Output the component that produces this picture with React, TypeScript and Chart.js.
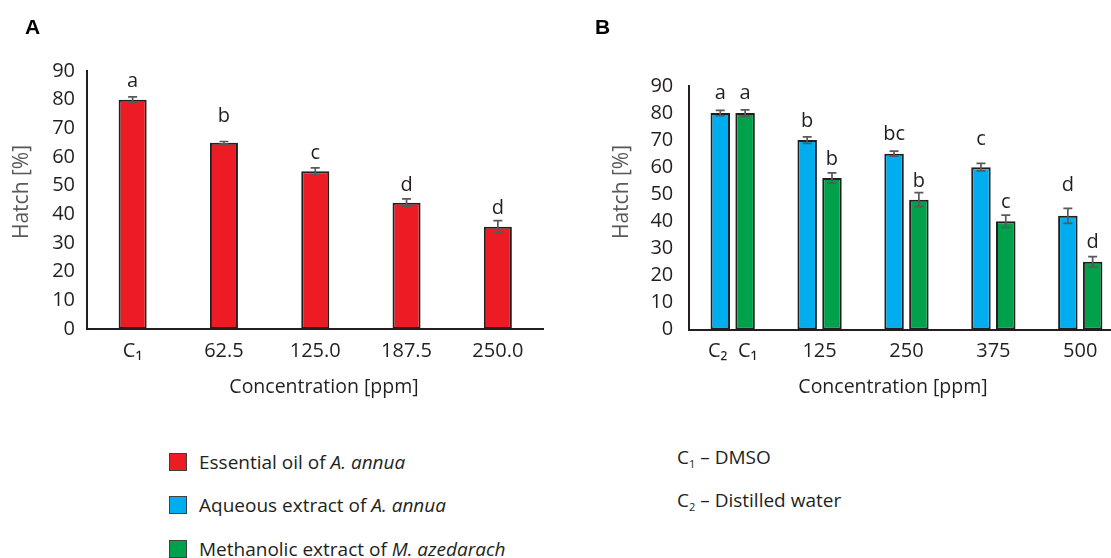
import React, { useEffect, useRef } from "react";
import { Chart, registerables } from "chart.js";

Chart.register(...registerables);

// ---------- Data ----------
const categoriesA = ["C₁", "62.5", "125.0", "187.5", "250.0"];
const essentialOil = [80, 65, 55, 44, 35.7];
const essentialOilErr = [1, 0.4, 1.2, 1.4, 2.1];
const essentialOilLetters = ["a", "b", "c", "d", "d"];
const essentialOilLetterLevel = [84.5, 72.3, 59.2, 48.2, 40.1];

const categoriesB = ["C₂  C₁", "125", "250", "375", "500"];
const aqueous = [80, 70, 65, 60, 42];
const aqueousErr = [1, 1.2, 0.9, 1.4, 2.8];
const aqueousLetters = ["a", "b", "bc", "c", "d"];
const aqueousLetterLevel = [85.1, 74.9, 70, 68.2, 51.2];
const methanolic = [80, 56, 48, 40, 25];
const methanolicErr = [1.2, 1.9, 2.6, 2.3, 1.9];
const methanolicLetters = ["a", "b", "b", "c", "d"];
const methanolicLetterLevel = [85.1, 60.8, 52.5, 44.8, 30];

const yMin = 0;
const yMax = 90;
const yStep = 10;
const xTitle = "Concentration [ppm]";
const yTitle = "Hatch [%]";

const FONT = "'Open Sans', 'Noto Sans', sans-serif";
const INK = "#231F20";

const annotatePlugin = {
  id: "annotate",
  afterDatasetsDraw(chart: any) {
    const ctx = chart.ctx;
    const ys = chart.scales.y;
    chart.data.datasets.forEach((ds: any, di: number) => {
      const meta = chart.getDatasetMeta(di);
      meta.data.forEach((bar: any, i: number) => {
        const v = ds.data[i];
        const e = ds.errors[i];
        const x = bar.x;
        const yTop = ys.getPixelForValue(v + e);
        const yBot = ys.getPixelForValue(v - e);
        ctx.save();
        ctx.strokeStyle = "#595959";
        ctx.lineWidth = 1.7;
        ctx.beginPath();
        ctx.moveTo(x, yTop);
        ctx.lineTo(x, yBot);
        ctx.moveTo(x - 4.5, yTop);
        ctx.lineTo(x + 4.5, yTop);
        ctx.moveTo(x - 4.5, yBot);
        ctx.lineTo(x + 4.5, yBot);
        ctx.stroke();
        ctx.fillStyle = INK;
        ctx.font = `20px ${FONT}`;
        ctx.textAlign = "center";
        ctx.textBaseline = "alphabetic";
        ctx.fillText(ds.letters[i], x, ys.getPixelForValue(ds.letterLevels[i]));
        ctx.restore();
      });
    });
  },
};

// Axis titles placed like the original figure (slightly off the plot centre)
const axisTitlePlugin = {
  id: "axisTitles",
  afterDraw(chart: any, _args: any, opts: any) {
    const ctx = chart.ctx;
    ctx.save();
    ctx.textAlign = "center";
    ctx.textBaseline = "middle";
    ctx.fillStyle = INK;
    ctx.font = `19.5px ${FONT}`;
    ctx.fillText(xTitle, opts.xTitleX, opts.xTitleY);
    ctx.translate(opts.yTitleX, opts.yTitleY);
    ctx.rotate(-Math.PI / 2);
    ctx.fillStyle = "#595959";
    ctx.font = `21px ${FONT}`;
    ctx.fillText(yTitle, 0, 0);
    ctx.restore();
  },
};

function makeOptions(opts: {
  padding: any;
  yWidth: number;
  xHeight: number;
  yTickPad: number;
  titles: any;
}) {
  return {
    responsive: false,
    animation: false as const,
    layout: { padding: opts.padding },
    plugins: {
      legend: { display: false },
      tooltip: { enabled: false },
      axisTitles: opts.titles,
    },
    scales: {
      x: {
        grid: { display: false, drawTicks: false },
        border: { display: true, color: INK, width: 2 },
        ticks: {
          color: INK,
          font: { family: FONT, size: 20 },
          padding: 10,
          maxRotation: 0,
          autoSkip: false,
        },
        title: { display: false },
        afterFit: (s: any) => {
          s.height = opts.xHeight;
        },
      },
      y: {
        min: yMin,
        max: yMax,
        grid: { display: false, drawTicks: false },
        border: { display: true, color: INK, width: 2 },
        ticks: {
          stepSize: yStep,
          color: INK,
          font: { family: FONT, size: 20 },
          padding: opts.yTickPad,
        },
        title: { display: false },
        afterFit: (s: any) => {
          s.width = opts.yWidth;
        },
      },
    },
  };
}

export default function App() {
  const refA = useRef<HTMLCanvasElement>(null);
  const refB = useRef<HTMLCanvasElement>(null);

  useEffect(() => {
    const chartA = new Chart(refA.current as HTMLCanvasElement, {
      type: "bar",
      data: {
        labels: categoriesA,
        datasets: [
          {
            label: "Essential oil of A. annua",
            data: essentialOil,
            backgroundColor: "#ED1C24",
            borderColor: INK,
            borderWidth: 2,
            borderSkipped: false,
            barPercentage: 1,
            categoryPercentage: 0.307,
            errors: essentialOilErr,
            letters: essentialOilLetters,
            letterLevels: essentialOilLetterLevel,
          } as any,
        ],
      },
      options: makeOptions({
        padding: { left: 0, right: 16.5, top: 71, bottom: 0 },
        yWidth: 87,
        xHeight: 91,
        yTickPad: 12,
        titles: { xTitleX: 324, xTitleY: 387, yTitleX: 22, yTitleY: 192 },
      }) as any,
      plugins: [annotatePlugin, axisTitlePlugin],
    });

    const chartB = new Chart(refB.current as HTMLCanvasElement, {
      type: "bar",
      data: {
        labels: categoriesB,
        datasets: [
          {
            label: "Aqueous extract of A. annua",
            data: aqueous,
            backgroundColor: "#00AEEF",
            borderColor: INK,
            borderWidth: 2,
            borderSkipped: false,
            barPercentage: 0.786,
            categoryPercentage: 0.571,
            errors: aqueousErr,
            letters: aqueousLetters,
            letterLevels: aqueousLetterLevel,
          } as any,
          {
            label: "Methanolic extract of M. azedarach",
            data: methanolic,
            backgroundColor: "#00A14B",
            borderColor: INK,
            borderWidth: 2,
            borderSkipped: false,
            barPercentage: 0.786,
            categoryPercentage: 0.571,
            errors: methanolicErr,
            letters: methanolicLetters,
            letterLevels: methanolicLetterLevel,
          } as any,
        ],
      },
      options: makeOptions({
        padding: { left: 40, right: 16.3, top: 86, bottom: 0 },
        yWidth: 89.25,
        xHeight: 90.5,
        yTickPad: 16,
        titles: { xTitleX: 333, xTitleY: 387, yTitleX: 62, yTitleY: 192 },
      }) as any,
      plugins: [annotatePlugin, axisTitlePlugin],
    });

    return () => {
      chartA.destroy();
      chartB.destroy();
    };
  }, []);

  const text: React.CSSProperties = {
    position: "absolute",
    fontFamily: FONT,
    fontSize: "19px",
    lineHeight: "24px",
    color: INK,
    whiteSpace: "nowrap",
  };
  const swatch = (color: string, top: number): React.CSSProperties => ({
    position: "absolute",
    left: 169,
    top,
    width: 18,
    height: 18,
    boxSizing: "border-box",
    background: color,
    border: "1.5px solid #404040",
  });
  const sub: React.CSSProperties = { fontSize: "11px", verticalAlign: "-4px", lineHeight: 0 };
  const panelLabel: React.CSSProperties = {
    position: "absolute",
    fontFamily: "'Liberation Sans', Arial, sans-serif",
    fontWeight: 700,
    fontSize: "21px",
    lineHeight: "24px",
    color: "#000",
    top: 15,
  };

  return (
    <div
      style={{
        position: "absolute",
        left: 0,
        top: 0,
        width: 1111,
        height: 558,
        overflow: "hidden",
        background: "#fff",
      }}
    >
      <canvas
        ref={refA}
        width={560}
        height={420}
        style={{ position: "absolute", left: 0, top: 0, width: 560, height: 420 }}
      />
      <canvas
        ref={refB}
        width={580}
        height={420}
        style={{ position: "absolute", left: 560, top: 0, width: 580, height: 420 }}
      />
      <div style={{ ...panelLabel, left: 25 }}>A</div>
      <div style={{ ...panelLabel, left: 595 }}>B</div>

      <div style={swatch("#ED1C24", 453)} />
      <div style={{ ...text, left: 199, top: 450 }}>
        Essential oil of <i>A. annua</i>
      </div>
      <div style={swatch("#00AEEF", 496)} />
      <div style={{ ...text, left: 199, top: 493 }}>
        Aqueous extract of <i>A. annua</i>
      </div>
      <div style={swatch("#00A14B", 540)} />
      <div style={{ ...text, left: 199, top: 536.5 }}>
        Methanolic extract of <i>M. azedarach</i>
      </div>

      <div style={{ ...text, left: 677, top: 445 }}>
        C<span style={sub}>1</span> – DMSO
      </div>
      <div style={{ ...text, left: 677, top: 488 }}>
        C<span style={sub}>2</span> – Distilled water
      </div>
    </div>
  );
}
